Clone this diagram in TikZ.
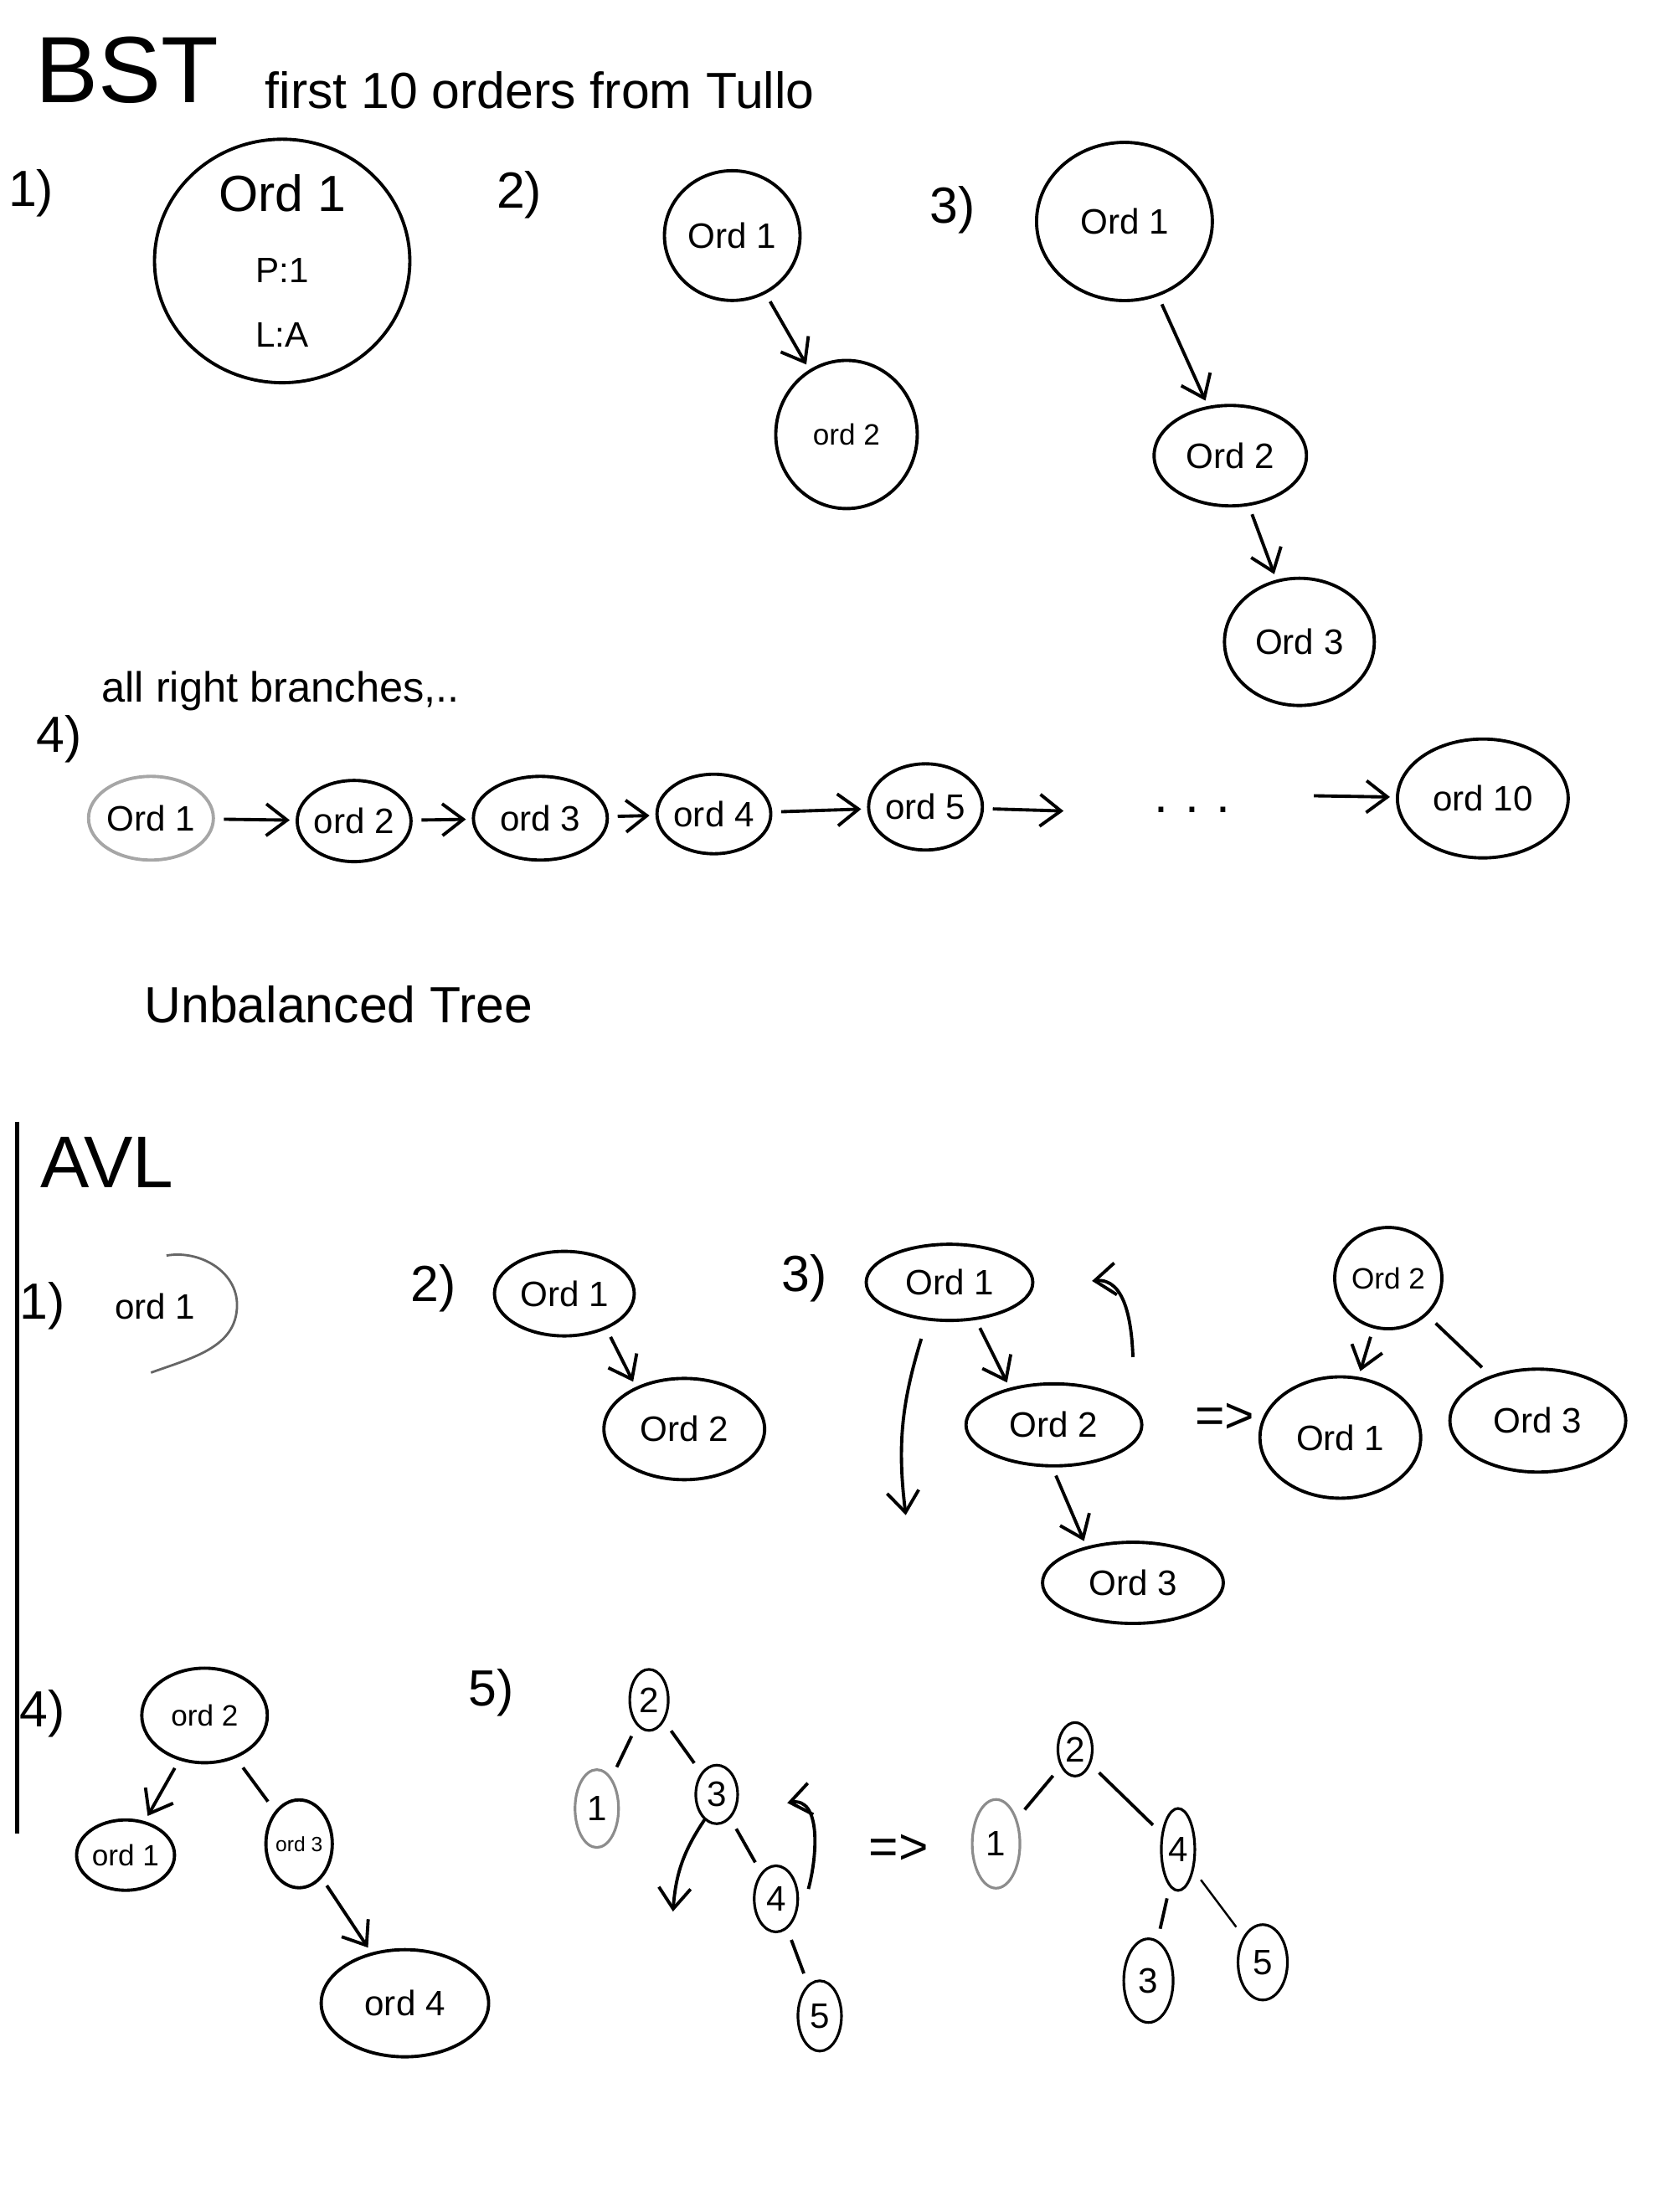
\documentclass[tikz,border=0pt]{standalone}
\usepackage{fontspec}
\setmainfont{Liberation Sans}
\usetikzlibrary{shapes.geometric,arrows.meta,positioning}

\begin{document}
\begin{tikzpicture}[
  x=0.16854mm, y=-0.16854mm,
  line width=1.1pt,
  >={Straight Barb[length=2.5mm,width=3.8mm]},
  ord/.style 2 args={
    ellipse,
    draw,
    minimum width=#1cm,
    minimum height=#2cm,
    inner sep=0pt,
    font=\large
  },
  num/.style 2 args={
    ellipse,
    draw,
    line width=0.9pt,
    minimum width=#1cm,
    minimum height=#2cm,
    inner sep=0pt,
    font=\large
  },
  lbl/.style={font=\LARGE},
  link/.style={->, shorten <=3pt, shorten >=2pt},
  bare/.style={shorten <=4pt, shorten >=4pt}
]

\useasboundingbox (0,0) rectangle (1189,1568);

% Title
\node[font=\fontsize{32}{34}\selectfont] (bst) at (90,50) {BST};
\node[font=\LARGE, anchor=west] (title) at (180,64) {first 10 orders from Tullo};

% BST step 1: one order
\node[lbl] (b1n) at (22,137) {1)};
\node[ord={3.05}{2.72}, align=center, font=\LARGE] (b1) at (200,185)
{Ord 1\\[2pt]{\large P:1}\\{\large L:A}};

% BST step 2
\node[lbl] (b2n) at (368,138) {2)};
\node[ord={1.62}{1.55}] (b2a) at (519,167) {Ord 1};
\node[ord={1.69}{1.77}, font=\normalsize] (b2b) at (600,308) {ord 2};
\draw[link] (b2a) -- (b2b);

% BST step 3
\node[lbl] (b3n) at (675,149) {3)};
\node[ord={2.1}{1.89}] (b3a) at (797,157) {Ord 1};
\node[ord={1.82}{1.2}] (b3b) at (872,323) {Ord 2};
\node[ord={1.79}{1.52}] (b3c) at (921,455) {Ord 3};
\draw[link] (b3a) -- (b3b);
\draw[link] (b3b) -- (b3c);

% BST step 4: the chain
\node[font=\Large, anchor=west] (note) at (64,490) {all right branches,..};
\node[lbl] (b4n) at (42,524) {4)};
\node[ord={1.35}{1.0}, draw=black!35] (c1) at (107,580) {Ord 1};
\node[ord={1.22}{0.97}] (c2) at (251,582) {ord 2};
\node[ord={1.6}{1.0}] (c3) at (383,580) {ord 3};
\node[ord={1.33}{0.95}] (c4) at (506,577) {ord 4};
\node[ord={1.35}{1.03}] (c5) at (656,572) {ord 5};
\coordinate (c6) at (758,575);
\node[font=\LARGE] (dots) at (845,574) {.\,\,.\,\,.};
\coordinate (c9) at (925,564);
\node[ord={2.04}{1.42}] (c10) at (1051,566) {ord 10};
\draw[link] (c1) -- (c2);
\draw[link] (c2) -- (c3);
\draw[link] (c3) -- (c4);
\draw[link] (c4) -- (c5);
\draw[link] (c5) -- (c6);
\draw[link] (c9) -- (c10);

\node[font=\LARGE] (unbal) at (240,712) {Unbalanced Tree};

% AVL
\node[font=\Huge] (avl) at (76,824) {AVL};
\coordinate (railtop) at (12,795);
\coordinate (railbot) at (12,1300);
\draw[line width=1.3pt] (railtop) -- (railbot);

% AVL step 1
\node[lbl] (a1n) at (30,926) {1)};
\node[font=\large] (a1) at (110,926) {ord 1};
\draw[black!60, line width=0.8pt] (118,890) to[out=10,in=90] (168,925)
  to[out=-90,in=20] (107,973);

% AVL step 2
\node[lbl] (a2n) at (307,913) {2)};
\node[ord={1.67}{1.01}] (a2a) at (400,917) {Ord 1};
\node[ord={1.92}{1.21}] (a2b) at (485,1013) {Ord 2};
\draw[link] (a2a.320) -- (a2b.139);

% AVL step 3 and its rotation
\node[lbl] (a3n) at (570,906) {3)};
\node[ord={1.99}{0.91}] (a3a) at (673,909) {Ord 1};
\node[ord={2.1}{0.98}] (a3b) at (747,1010) {Ord 2};
\node[ord={2.16}{0.97}] (a3c) at (803,1122) {Ord 3};
\draw[link] (a3a.305) -- (a3b.140);
\draw[link] (a3b.268) -- (a3c.142);
\coordinate (rl1) at (653,949);
\coordinate (rl2) at (642,1074);
\draw[->] (rl1) to[bend right=12] (rl2);
\coordinate (rr1) at (803,962);
\coordinate (rr2) at (774,908);
\draw[->] (rr1) to[out=92,in=5] (rr2);
\node[font=\LARGE] (a3to) at (868,1005) {=>};

% AVL step 3 result
\node[ord={1.28}{1.21}, font=\normalsize] (a3r2) at (984,906) {Ord 2};
\node[ord={1.92}{1.45}] (a3r1) at (950,1019) {Ord 1};
\node[ord={2.1}{1.23}] (a3r3) at (1090,1007) {Ord 3};
\draw[link] (a3r2) -- (a3r1);
\draw[bare] (a3r2) -- (a3r3);

% AVL step 4
\node[lbl] (a4n) at (30,1215) {4)};
\node[ord={1.5}{1.13}, font=\normalsize] (a4b) at (145,1216) {ord 2};
\node[ord={1.17}{0.84}, font=\normalsize] (a4a) at (89,1315) {ord 1};
\node[ord={0.78}{1.05}, font=\scriptsize] (a4c) at (212,1307) {ord 3};
\node[ord={2.0}{1.28}] (a4d) at (287,1420) {ord 4};
\draw[link] (a4b) -- (a4a);
\draw[bare] (a4b) -- (a4c);
\draw[link] (a4c) -- (a4d);

% AVL step 5: before
\node[lbl] (a5n) at (348,1200) {5)};
\node[num={0.46}{0.73}] (t2) at (460,1205) {2};
\node[num={0.52}{0.93}, draw=black!45] (t1) at (423,1282) {1};
\node[num={0.5}{0.7}] (t3) at (508,1272) {3};
\node[num={0.52}{0.79}] (t4) at (550,1346) {4};
\node[num={0.52}{0.84}] (t5) at (581,1429) {5};
\draw[bare] (t2) -- (t1);
\draw[bare] (t2) -- (t3);
\draw[bare] (t3) -- (t4);
\draw[bare] (t4) -- (t5);
\coordinate (tl1) at (500,1289);
\coordinate (tl2) at (477,1355);
\draw[->] (tl1) to[bend right=15] (tl2);
\coordinate (tr1) at (573,1339);
\coordinate (tr2) at (558,1278);
\draw[->] (tr1) to[out=75,in=10] (tr2);
\node[font=\LARGE] (a5to) at (637,1311) {=>};

% AVL step 5: after
\node[num={0.41}{0.64}] (u2) at (762,1240) {2};
\node[num={0.57}{1.06}, draw=black!45] (u1) at (706,1307) {1};
\node[num={0.4}{0.98}] (u4) at (835,1311) {4};
\node[num={0.59}{1.0}] (u3) at (814,1404) {3};
\node[num={0.59}{0.9}] (u5) at (895,1391) {5};
\draw[bare] (u2) -- (u1);
\draw[bare] (u2) -- (u4);
\draw[bare] (u4) -- (u3);
\draw[bare, line width=0.7pt] (u4) -- (u5);

\end{tikzpicture}
\end{document}
